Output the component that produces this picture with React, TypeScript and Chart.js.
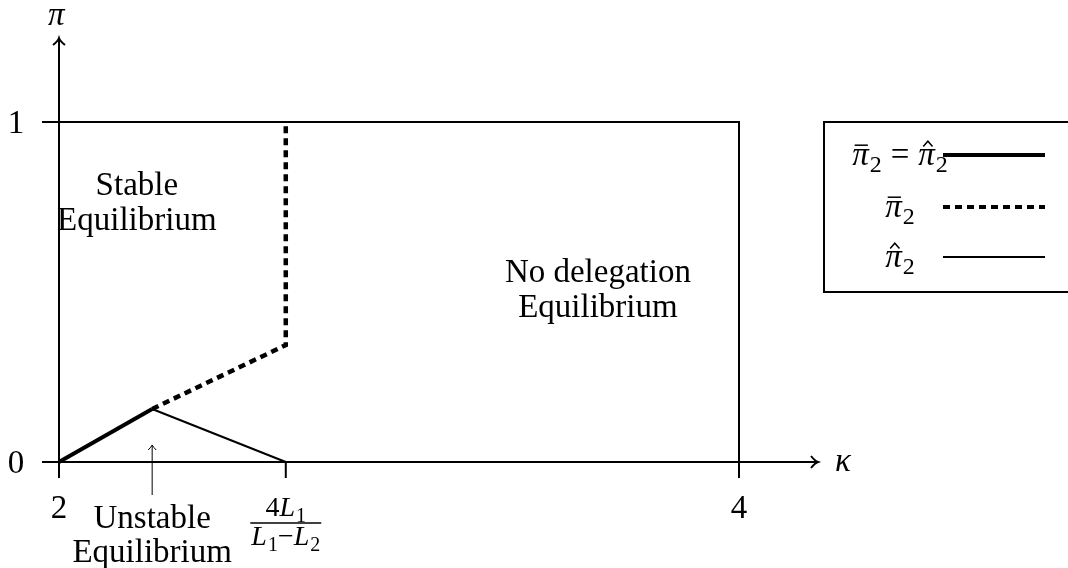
import { useEffect, useRef } from "react";
import { Chart, registerables } from "chart.js";

Chart.register(...registerables);

// Equilibrium boundaries in the (κ, π) plane
const equalKappa = [2, 2.274];
const equalPi = [0, 0.156];
const barKappa = [2.274, 2.667, 2.667];
const barPi = [0.156, 0.344, 1];
const hatKappa = [2.274, 2.667];
const hatPi = [0.156, 0];
const frameKappa = [2, 4, 4];
const framePi = [1, 1, 0];

// Axis ticks
const xTickValues = [2, 2.667, 4];
const yTickValues = [0, 1];
const yTickLabels = ["0", "1"];

// Region captions
const stableLines = ["Stable", "Equilibrium"];
const noDelegationLines = ["No delegation", "Equilibrium"];
const unstableLines = ["Unstable", "Equilibrium"];

const SERIF = '"Liberation Serif", "DejaVu Serif", serif';
const INK = "#000";

const toPoints = (xs: number[], ys: number[]) => xs.map((x, i) => ({ x, y: ys[i] }));

// Italic π with an optional accent and subscript; returns the advance width.
function drawPi(
  ctx: CanvasRenderingContext2D,
  x: number,
  y: number,
  size: number,
  accent: "bar" | "hat" | null,
  sub: string | null
): number {
  ctx.font = `italic ${size}px ${SERIF}`;
  ctx.textAlign = "left";
  ctx.textBaseline = "alphabetic";
  ctx.fillText("π", x, y);
  const w = ctx.measureText("π").width;
  ctx.lineWidth = 1.5;
  if (accent === "bar") {
    ctx.beginPath();
    ctx.moveTo(x + w * 0.15, y - size * 0.6);
    ctx.lineTo(x + w * 0.95, y - size * 0.6);
    ctx.stroke();
  } else if (accent === "hat") {
    ctx.beginPath();
    ctx.moveTo(x + w * 0.3, y - size * 0.56);
    ctx.lineTo(x + w * 0.58, y - size * 0.72);
    ctx.lineTo(x + w * 0.86, y - size * 0.56);
    ctx.stroke();
  }
  let total = w;
  if (sub) {
    ctx.font = `${Math.round(size * 0.72)}px ${SERIF}`;
    ctx.fillText(sub, x + w + 1, y + size * 0.2);
    total += ctx.measureText(sub).width + 1;
  }
  return total;
}

function measurePi(ctx: CanvasRenderingContext2D, size: number, sub: string | null) {
  ctx.font = `italic ${size}px ${SERIF}`;
  let w = ctx.measureText("π").width;
  if (sub) {
    ctx.font = `${Math.round(size * 0.72)}px ${SERIF}`;
    w += ctx.measureText(sub).width + 1;
  }
  return w;
}

// Sequence of upright / italic / subscript pieces
type Piece = { t: string; it?: boolean; sub?: boolean };
function pieceWidth(ctx: CanvasRenderingContext2D, p: Piece, size: number) {
  const s = p.sub ? Math.round(size * 0.72) : size;
  ctx.font = `${p.it ? "italic " : ""}${s}px ${SERIF}`;
  return ctx.measureText(p.t).width + (p.it ? 1 : 0);
}
function drawPieces(ctx: CanvasRenderingContext2D, pieces: Piece[], cx: number, y: number, size: number) {
  const total = pieces.reduce((a, p) => a + pieceWidth(ctx, p, size), 0);
  let x = cx - total / 2;
  ctx.textAlign = "left";
  ctx.textBaseline = "alphabetic";
  for (const p of pieces) {
    const w = pieceWidth(ctx, p, size);
    ctx.fillText(p.t, x, p.sub ? y + size * 0.2 : y);
    x += w;
  }
  return total;
}

const diagramPlugin = {
  id: "diagram",
  beforeDatasetsDraw(chart: any) {
    const ctx: CanvasRenderingContext2D = chart.ctx;
    const xs = chart.scales.x;
    const ys = chart.scales.y;
    const x0 = xs.getPixelForValue(2);
    const y0 = ys.getPixelForValue(0);
    ctx.save();
    ctx.strokeStyle = INK;
    ctx.fillStyle = INK;
    ctx.lineWidth = 2;
    ctx.lineCap = "butt";

    // κ axis with arrow
    const xEnd = x0 + 759;
    ctx.beginPath();
    ctx.moveTo(x0 - 17, y0);
    ctx.lineTo(xEnd, y0);
    ctx.stroke();
    ctx.beginPath();
    ctx.moveTo(xEnd - 7, y0 - 6);
    ctx.quadraticCurveTo(xEnd - 3, y0 - 1, xEnd, y0);
    ctx.quadraticCurveTo(xEnd - 3, y0 + 1, xEnd - 7, y0 + 6);
    ctx.stroke();

    // π axis with arrow
    const yTop = y0 - 424;
    ctx.beginPath();
    ctx.moveTo(x0, y0 + 16);
    ctx.lineTo(x0, yTop);
    ctx.stroke();
    ctx.beginPath();
    ctx.moveTo(x0 - 6, yTop + 7);
    ctx.quadraticCurveTo(x0 - 1, yTop + 3, x0, yTop);
    ctx.quadraticCurveTo(x0 + 1, yTop + 3, x0 + 6, yTop + 7);
    ctx.stroke();

    // tick marks
    for (const v of xTickValues) {
      const px = xs.getPixelForValue(v);
      ctx.beginPath();
      ctx.moveTo(px, y0);
      ctx.lineTo(px, y0 + 16);
      ctx.stroke();
    }
    for (const v of yTickValues) {
      const py = ys.getPixelForValue(v);
      ctx.beginPath();
      ctx.moveTo(x0 - 17, py);
      ctx.lineTo(x0, py);
      ctx.stroke();
    }
    ctx.restore();
  },
  afterDatasetsDraw(chart: any) {
    const ctx: CanvasRenderingContext2D = chart.ctx;
    const xs = chart.scales.x;
    const ys = chart.scales.y;
    const x0 = xs.getPixelForValue(2);
    const y0 = ys.getPixelForValue(0);
    const size = 33;
    ctx.save();
    ctx.fillStyle = INK;
    ctx.strokeStyle = INK;

    // axis names
    drawPi(ctx, x0 - 11, y0 - 437, 33, null, null);
    ctx.font = `italic 33px ${SERIF}`;
    ctx.textAlign = "left";
    ctx.fillText("κ", x0 + 776, y0 + 9);

    // tick labels
    ctx.font = `${size}px ${SERIF}`;
    ctx.textAlign = "center";
    ctx.textBaseline = "alphabetic";
    yTickValues.forEach((v, i) => {
      ctx.fillText(yTickLabels[i], x0 - 43, ys.getPixelForValue(v) + 11);
    });
    ctx.fillText("2", xs.getPixelForValue(xTickValues[0]), y0 + 56);
    ctx.fillText("4", xs.getPixelForValue(xTickValues[2]), y0 + 56);

    // 4L1 / (L1 − L2)
    const fx = xs.getPixelForValue(xTickValues[1]);
    const fs = 28;
    drawPieces(ctx, [{ t: "4" }, { t: "L", it: true }, { t: "1", sub: true }], fx, y0 + 54, fs);
    const dw = drawPieces(
      ctx,
      [{ t: "L", it: true }, { t: "1", sub: true }, { t: "−" }, { t: "L", it: true }, { t: "2", sub: true }],
      fx,
      y0 + 83,
      fs
    );
    ctx.lineWidth = 1.5;
    ctx.beginPath();
    ctx.moveTo(fx - dw / 2 - 1, y0 + 61);
    ctx.lineTo(fx + dw / 2 + 1, y0 + 61);
    ctx.stroke();

    // region captions
    ctx.font = `${size}px ${SERIF}`;
    ctx.textAlign = "center";
    const sx = xs.getPixelForValue(2.229);
    stableLines.forEach((t, i) => ctx.fillText(t, sx, ys.getPixelForValue(0.785) + i * 35));
    const nx = xs.getPixelForValue(3.585);
    noDelegationLines.forEach((t, i) => ctx.fillText(t, nx, ys.getPixelForValue(0.53) + i * 35));
    const ux = xs.getPixelForValue(2.274);
    unstableLines.forEach((t, i) => ctx.fillText(t, ux, y0 + 66 + i * 34));

    // pointer to the unstable branch
    const ay = ys.getPixelForValue(0.05);
    ctx.lineWidth = 1;
    ctx.beginPath();
    ctx.moveTo(ux, y0 + 33);
    ctx.lineTo(ux, ay);
    ctx.stroke();
    ctx.beginPath();
    ctx.moveTo(ux - 4, ay + 5);
    ctx.quadraticCurveTo(ux - 1, ay + 2, ux, ay);
    ctx.quadraticCurveTo(ux + 1, ay + 2, ux + 4, ay + 5);
    ctx.stroke();

    // legend
    const lx = 824;
    const ly = ys.getPixelForValue(1);
    ctx.lineWidth = 2;
    ctx.strokeRect(lx, ly, 260, 170);
    const labelCx = 900;
    const sampleX0 = 943;
    const sampleX1 = 1045;
    const rows = [ly + 33, ly + 85, ly + 135];
    const ps = 33;
    // row 1: π̄2 = π̂2
    {
      const w1 = measurePi(ctx, ps, "2");
      ctx.font = `${ps}px ${SERIF}`;
      const eqW = ctx.measureText("=").width;
      const gap = 9;
      const total = w1 * 2 + eqW + gap * 2;
      let x = labelCx - total / 2;
      x += drawPi(ctx, x, rows[0] + 10, ps, "bar", "2");
      ctx.font = `${ps}px ${SERIF}`;
      ctx.textAlign = "left";
      ctx.fillText("=", x + gap, rows[0] + 10);
      x += eqW + gap * 2;
      drawPi(ctx, x, rows[0] + 10, ps, "hat", "2");
    }
    {
      const w = measurePi(ctx, ps, "2");
      drawPi(ctx, labelCx - w / 2, rows[1] + 10, ps, "bar", "2");
      drawPi(ctx, labelCx - w / 2, rows[2] + 10, ps, "hat", "2");
    }
    ctx.lineCap = "butt";
    ctx.lineWidth = 4;
    ctx.beginPath();
    ctx.moveTo(sampleX0, rows[0]);
    ctx.lineTo(sampleX1, rows[0]);
    ctx.stroke();
    ctx.setLineDash([7, 5]);
    ctx.beginPath();
    ctx.moveTo(sampleX0, rows[1]);
    ctx.lineTo(sampleX1, rows[1]);
    ctx.stroke();
    ctx.setLineDash([]);
    ctx.lineWidth = 2;
    ctx.beginPath();
    ctx.moveTo(sampleX0, rows[2]);
    ctx.lineTo(sampleX1, rows[2]);
    ctx.stroke();

    ctx.restore();
  },
};

export default function App() {
  const canvasRef = useRef<HTMLCanvasElement | null>(null);

  useEffect(() => {
    const canvas = canvasRef.current;
    if (!canvas) return;
    const lineBase = {
      showLine: true,
      pointRadius: 0,
      borderColor: INK,
      backgroundColor: INK,
      fill: false,
      tension: 0,
      clip: false as const,
      borderCapStyle: "butt" as const,
    };
    const chart = new Chart(canvas, {
      type: "scatter",
      data: {
        datasets: [
          { ...lineBase, label: "frame", data: toPoints(frameKappa, framePi), borderWidth: 2 },
          { ...lineBase, label: "π̂2", data: toPoints(hatKappa, hatPi), borderWidth: 2 },
          { ...lineBase, label: "π̄2", data: toPoints(barKappa, barPi), borderWidth: 4.5, borderDash: [7, 5] },
          { ...lineBase, label: "π̄2 = π̂2", data: toPoints(equalKappa, equalPi), borderWidth: 4 },
        ],
      },
      options: {
        animation: false,
        responsive: false,
        events: [],
        layout: { padding: { left: 59, right: 329, top: 122, bottom: 106 } },
        scales: {
          x: { type: "linear", min: 2, max: 4, display: false },
          y: { type: "linear", min: 0, max: 1, display: false },
        },
        plugins: { legend: { display: false }, tooltip: { enabled: false } },
      },
      plugins: [diagramPlugin],
    });
    return () => chart.destroy();
  }, []);

  return (
    <div style={{ position: "absolute", left: 0, top: 0, width: 1068, height: 568, background: "#fff" }}>
      <canvas ref={canvasRef} width={1068} height={568} style={{ display: "block" }} />
    </div>
  );
}
